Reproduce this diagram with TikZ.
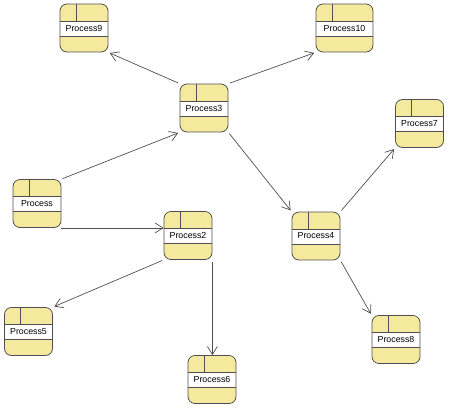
\documentclass[tikz,border=0pt]{standalone}
\usepackage{fontspec}
\setmainfont{Liberation Sans}
\usetikzlibrary{arrows.meta}
\definecolor{procfill}{RGB}{245,233,158}
\definecolor{procline}{RGB}{80,80,80}

\begin{document}
\begin{tikzpicture}[
            x=1pt, y=-1pt,
            procbox/.style={draw=procline, fill=procfill, line width=0.8pt, rounded corners=7pt,
                minimum width=48pt, minimum height=48pt, inner sep=0pt,
                font=\fontsize{8.8}{10}\selectfont,
                path picture={
                    \fill[white, sharp corners] ([yshift=-17pt]path picture bounding box.north west) rectangle ([yshift=16pt]path picture bounding box.south east);
                    \draw[procline, line width=0.8pt, sharp corners]
                        ([yshift=-17pt]path picture bounding box.north west) -- ([yshift=-17pt]path picture bounding box.north east)
                        ([yshift=16pt]path picture bounding box.south west) -- ([yshift=16pt]path picture bounding box.south east)
                        ([xshift=16pt]path picture bounding box.north west) -- ([xshift=16pt,yshift=-17pt]path picture bounding box.north west);
                }},
            flow/.style={->, draw=procline, line width=0.7pt, shorten >=1.5pt, shorten <=1.5pt},
            >={Straight Barb[length=8pt,width=10pt]}
        ]
        \useasboundingbox (0,0) rectangle (449,408);

        \node[procbox] (proc9) at (84,28) {Process9};
        \node[procbox, minimum width=57pt] (proc10) at (344.5,28) {Process10};
        \node[procbox] (proc3) at (204,108) {Process3};
        \node[procbox] (proc7) at (419.5,123.5) {Process7};
        \node[procbox] (proc) at (37,203.5) {Process};
        \node[procbox] (proc2) at (188,235.5) {Process2};
        \node[procbox] (proc4) at (316,236) {Process4};
        \node[procbox] (proc5) at (28.5,331.5) {Process5};
        \node[procbox] (proc8) at (396,339.5) {Process8};
        \node[procbox] (proc6) at (212,379.5) {Process6};

        \draw[flow] (proc3.north west) -- (proc9.south east);
        \draw[flow] (proc3.north east) -- (proc10.south west);
        \draw[flow] (proc.north east) -- (proc3.south west);
        \draw[flow, shorten <=0pt, shorten >=0pt] (proc.south east) -- (proc.south east -| proc2.west);
        \draw[flow] (proc3.south east) -- (proc4.north west);
        \draw[flow] (proc4.north east) -- (proc7.south west);
        \draw[flow] (proc4.south east) -- (proc8.north west);
        \draw[flow] (proc2.south west) -- (proc5.north east);
        \draw[flow, shorten <=2pt, shorten >=0pt] (proc2.south east) -- (proc2.south east |- proc6.north);
    \end{tikzpicture}
\end{document}
